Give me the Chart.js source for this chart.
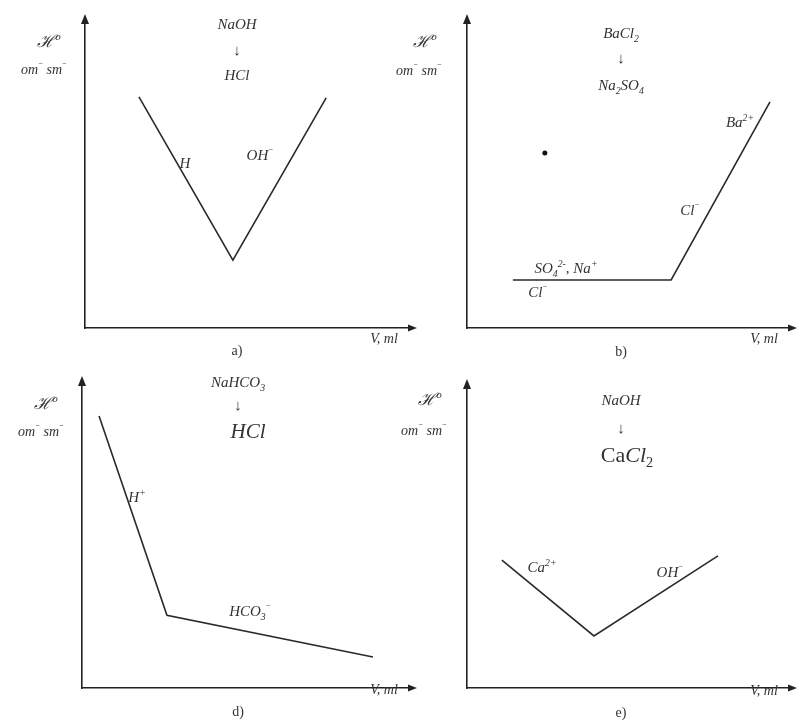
<!DOCTYPE html>
<html>
<head>
<meta charset="utf-8">
<script src="https://cdn.jsdelivr.net/npm/chart.js@4.4.1/dist/chart.umd.min.js"></script>
<style>
html,body{margin:0;padding:0;background:#fff;}
#wrap{position:relative;width:799px;height:720px;background:#fff;overflow:hidden;}
#wrap canvas{position:absolute;left:0;top:0;}
.t{position:absolute;transform:translate(-50%,-50%);font-family:"Liberation Serif","DejaVu Serif",serif;font-style:italic;color:#333;font-size:15px;white-space:nowrap;line-height:1;}
.t sub,.t sup{font-size:65%;line-height:0;}
.u{font-style:normal;}
</style>
</head>
<body>
<div id="wrap">
<canvas id="ca" width="799" height="720"></canvas>
<canvas id="cb" width="799" height="720"></canvas>
<canvas id="cd" width="799" height="720"></canvas>
<canvas id="ce" width="799" height="720"></canvas>
</div>
<script>
// ---- data (x: titrant volume, y: conductivity, arbitrary units) ----
const aVolume = [1.66, 4.55, 7.42];
const aConductivity = [7.55, 2.22, 7.52];

const bVolume = [1.42, 6.32, 9.38];
const bConductivity = [1.57, 1.57, 7.39];
const bDotVolume = [2.41];
const bDotConductivity = [5.72];

const dVolume = [0.52, 2.59, 8.87];
const dConductivity = [8.95, 2.39, 1.02];

const eVolume = [1.08, 3.93, 7.77];
const eConductivity = [4.25, 1.73, 4.39];

const axisMin = 0;
const axisMax = 10;

// ---- helpers ----
const pts = (xs, ys) => xs.map((x, i) => ({x: x, y: ys[i]}));

const arrowPlugin = {
  id: 'arrows',
  afterDraw(chart) {
    const {ctx, chartArea: a} = chart;
    ctx.save();
    ctx.fillStyle = '#222';
    ctx.beginPath();
    ctx.moveTo(a.left, a.top - 8);
    ctx.lineTo(a.left - 4, a.top + 2);
    ctx.lineTo(a.left + 4, a.top + 2);
    ctx.closePath();
    ctx.fill();
    ctx.beginPath();
    ctx.moveTo(a.right + 7, a.bottom);
    ctx.lineTo(a.right - 2, a.bottom - 3.5);
    ctx.lineTo(a.right - 2, a.bottom + 3.5);
    ctx.closePath();
    ctx.fill();
    ctx.restore();
  }
};

function makeChart(id, pad, datasets) {
  new Chart(document.getElementById(id), {
    type: 'line',
    data: {datasets: datasets},
    options: {
      responsive: false,
      animation: false,
      events: [],
      layout: {padding: pad},
      plugins: {legend: {display: false}, tooltip: {enabled: false}, title: {display: false}},
      scales: {
        x: {
          type: 'linear', min: axisMin, max: axisMax,
          ticks: {display: false}, grid: {display: false, drawTicks: false},
          border: {display: true, color: '#222', width: 1.6},
          afterFit(s) { s.height = 0; }
        },
        y: {
          type: 'linear', min: axisMin, max: axisMax,
          ticks: {display: false}, grid: {display: false, drawTicks: false},
          border: {display: true, color: '#222', width: 1.6},
          afterFit(s) { s.width = 0; }
        }
      }
    },
    plugins: [arrowPlugin]
  });
}

const lineStyle = {borderColor: '#2a2a2a', borderWidth: 1.6, pointRadius: 0, tension: 0, fill: false};

makeChart('ca', {left: 85, top: 22, right: 799 - 410, bottom: 720 - 328},
  [Object.assign({data: pts(aVolume, aConductivity)}, lineStyle)]);
makeChart('cb', {left: 467, top: 22, right: 799 - 790, bottom: 720 - 328},
  [Object.assign({data: pts(bVolume, bConductivity)}, lineStyle),
   {data: pts(bDotVolume, bDotConductivity), showLine: false, pointRadius: 2.5, pointBackgroundColor: '#111', pointBorderWidth: 0}]);
makeChart('cd', {left: 82, top: 384, right: 799 - 410, bottom: 720 - 688},
  [Object.assign({data: pts(dVolume, dConductivity)}, lineStyle)]);
makeChart('ce', {left: 467, top: 387, right: 799 - 790, bottom: 720 - 688},
  [Object.assign({data: pts(eVolume, eConductivity)}, lineStyle)]);

// ---- text labels ----
const labels = [
  // panel a
  ['NaOH', 237, 24, 15], ['↓', 237, 50, 15], ['HCl', 237, 75, 15],
  ['ℋ<sup>o</sup>', 49, 41, 17], ['om<sup>⁻</sup> sm<sup>⁻</sup>', 44, 70, 14],
  ['H', 185, 163, 15], ['OH<sup>⁻</sup>', 260, 155, 15],
  ['<span class="u">a)</span>', 237, 351, 14], ['V, ml', 384, 339, 14],
  // panel b
  ['BaCl<sub>2</sub>', 621, 33, 15], ['↓', 621, 58, 15], ['Na<sub>2</sub>SO<sub>4</sub>', 621, 85, 15],
  ['ℋ<sup>o</sup>', 425, 41, 17], ['om<sup>⁻</sup> sm<sup>⁻</sup>', 419, 71, 14],
  ['Ba<sup>2+</sup>', 740, 122, 15], ['Cl<sup>⁻</sup>', 690, 210, 15],
  ['SO<sub>4</sub><sup>2-</sup>, Na<sup>+</sup>', 566, 268, 15], ['Cl<sup>⁻</sup>', 538, 292, 15],
  ['<span class="u">b)</span>', 621, 352, 14], ['V, ml', 764, 339, 14],
  // panel d
  ['NaHCO<sub>3</sub>', 238, 382, 15], ['↓', 238, 405, 15], ['HCl', 248, 431, 21],
  ['ℋ<sup>o</sup>', 46, 403, 17], ['om<sup>⁻</sup> sm<sup>⁻</sup>', 41, 432, 14],
  ['H<sup>+</sup>', 137, 497, 15], ['HCO<sub>3</sub><sup>⁻</sup>', 250, 611, 15],
  ['<span class="u">d)</span>', 238, 712, 14], ['V, ml', 384, 690, 14],
  // panel e
  ['NaOH', 621, 400, 15], ['↓', 621, 428, 15],
  ['<span class="u">Ca</span>Cl<span class="u"><sub>2</sub></span>', 627, 455, 22],
  ['ℋ<sup>o</sup>', 430, 399, 17], ['om<sup>⁻</sup> sm<sup>⁻</sup>', 424, 431, 14],
  ['Ca<sup>2+</sup>', 542, 567, 15], ['OH<sup>⁻</sup>', 670, 572, 15],
  ['<span class="u">e)</span>', 621, 713, 14], ['V, ml', 764, 691, 14]
];
const wrap = document.getElementById('wrap');
labels.forEach(([html, x, y, size]) => {
  const d = document.createElement('div');
  d.className = 't';
  d.innerHTML = html;
  d.style.left = x + 'px';
  d.style.top = y + 'px';
  d.style.fontSize = size + 'px';
  wrap.appendChild(d);
});
</script>
</body>
</html>
